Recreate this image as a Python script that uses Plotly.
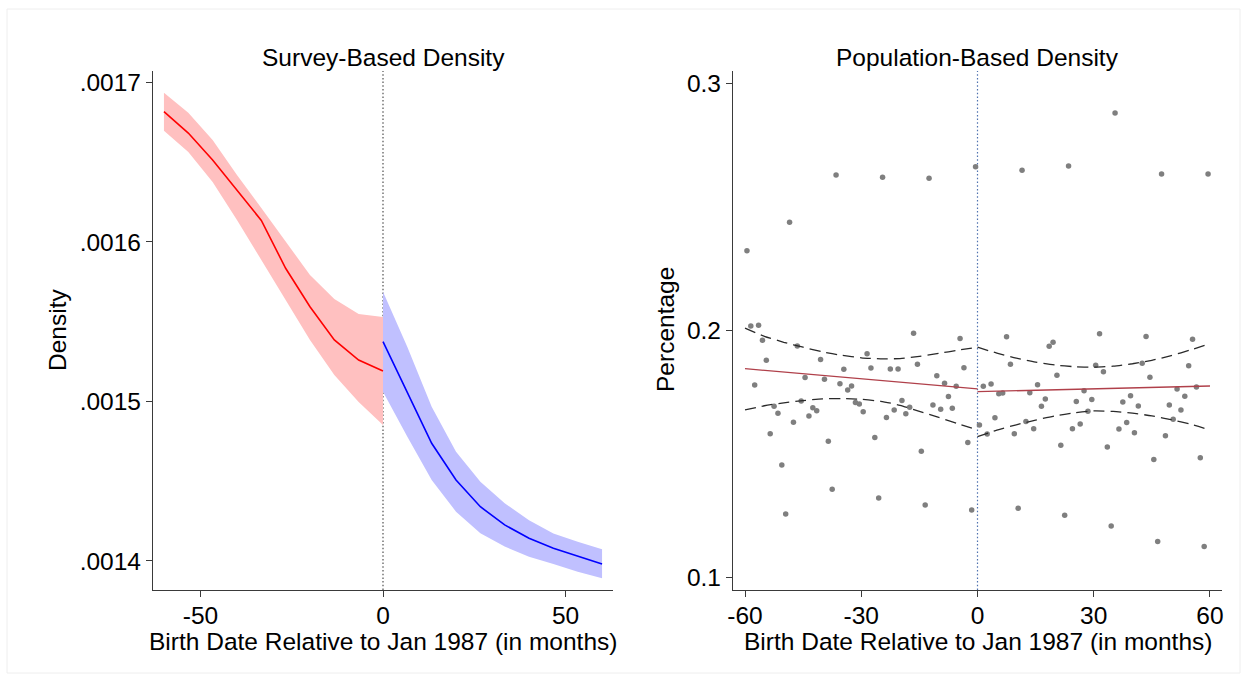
import plotly.graph_objects as go

# ---------------- Data ----------------
# Survey-based density (left panel)
survey_x_left = [-60, -53.33, -46.67, -40, -33.33, -26.67, -20, -13.33, -6.67, 0]
survey_left_fit = [0.0016817, 0.0016683, 0.0016514, 0.0016326, 0.0016135, 0.0015835,
                   0.0015594, 0.0015386, 0.0015260, 0.0015191]
survey_left_hi = [0.0016936, 0.0016811, 0.0016640, 0.0016420, 0.0016213, 0.0016006,
                  0.0015793, 0.0015643, 0.0015549, 0.0015530]
survey_left_lo = [0.0016698, 0.0016564, 0.0016376, 0.0016138, 0.0015887, 0.0015636,
                  0.0015386, 0.0015166, 0.0014997, 0.0014853]

survey_x_right = [0, 6.67, 13.33, 20, 26.67, 33.33, 40, 46.67, 53.33, 60]
survey_right_fit = [0.0015375, 0.0015051, 0.0014738, 0.0014508, 0.0014340, 0.0014226,
                    0.0014142, 0.0014080, 0.0014031, 0.0013981]
survey_right_hi = [0.0015688, 0.0015342, 0.0014967, 0.0014685, 0.0014497, 0.0014362,
                   0.0014256, 0.0014173, 0.0014121, 0.0014073]
survey_right_lo = [0.0015061, 0.0014779, 0.0014508, 0.0014309, 0.0014174, 0.0014090,
                   0.0014027, 0.0013981, 0.0013933, 0.0013891]

# Population-based density (right panel): monthly bins -60 .. 59
months = list(range(-60, 60))
pct = [
    0.2323, 0.2019, 0.1780, 0.2022, 0.1961, 0.1880, 0.1583, 0.1694, 0.1666, 0.1456,
    0.1258, 0.2439, 0.1629, 0.1938, 0.1715, 0.1810, 0.1655, 0.1688, 0.1676, 0.1883,
    0.1803, 0.1552, 0.1358, 0.2630, 0.1785, 0.1844, 0.1760, 0.1776, 0.1709, 0.1703,
    0.1672, 0.1906, 0.1849, 0.1567, 0.1323, 0.2621, 0.1648, 0.1845, 0.1679, 0.1845,
    0.1717, 0.1664, 0.1690, 0.1989, 0.1864, 0.1512, 0.1294, 0.2617, 0.1699, 0.1817,
    0.1682, 0.1787, 0.1733, 0.1686, 0.1775, 0.1968, 0.1850, 0.1547, 0.1274, 0.2663,
    0.1618, 0.1775, 0.1582, 0.1784, 0.1647, 0.1745, 0.1748, 0.1975, 0.1864, 0.1583,
    0.1281, 0.2649, 0.1632, 0.1749, 0.1603, 0.1781, 0.1694, 0.1723, 0.1937, 0.1953,
    0.1819, 0.1536, 0.1253, 0.2666, 0.1603, 0.1713, 0.1622, 0.1757, 0.1674, 0.1721,
    0.1860, 0.1987, 0.1834, 0.1529, 0.1209, 0.2881, 0.1602, 0.1711, 0.1628, 0.1736,
    0.1587, 0.1695, 0.1868, 0.1976, 0.1811, 0.1478, 0.1147, 0.2634, 0.1575, 0.1699,
    0.1641, 0.1764, 0.1679, 0.1734, 0.1858, 0.1965, 0.1772, 0.1486, 0.1126, 0.2634,
]

pop_fit_left_x = [-60, 0]
pop_fit_left_y = [0.1846, 0.1764]
pop_fit_right_x = [0, 60]
pop_fit_right_y = [0.1753, 0.1776]

pop_ci_left_x = [-60, -55, -50, -45, -40, -35, -30, -25, -20, -15, -10, -5, 0]
pop_ci_left_hi = [0.2010, 0.1977, 0.1953, 0.1933, 0.1914, 0.1900, 0.1890, 0.1886,
                  0.1887, 0.1896, 0.1908, 0.1921, 0.1933]
pop_ci_left_lo = [0.1679, 0.1696, 0.1708, 0.1717, 0.1724, 0.1725, 0.1722, 0.1714,
                  0.1698, 0.1673, 0.1649, 0.1623, 0.1598]
pop_ci_right_x = [0, 5, 10, 15, 20, 25, 30, 35, 40, 45, 50, 55, 60]
pop_ci_right_hi = [0.1933, 0.1909, 0.1889, 0.1873, 0.1861, 0.1854, 0.1852, 0.1856,
                   0.1866, 0.1880, 0.1899, 0.1922, 0.1947]
pop_ci_right_lo = [0.1571, 0.1597, 0.1619, 0.1638, 0.1655, 0.1667, 0.1675, 0.1673,
                   0.1666, 0.1655, 0.1640, 0.1621, 0.1598]

left_yticks = [0.0014, 0.0015, 0.0016, 0.0017]
left_yticktext = [".0014", ".0015", ".0016", ".0017"]
left_xticks = [-50, 0, 50]
left_xticktext = ["-50", "0", "50"]
right_yticks = [0.1, 0.2, 0.3]
right_yticktext = ["0.1", "0.2", "0.3"]
right_xticks = [-60, -30, 0, 30, 60]
right_xticktext = ["-60", "-30", "0", "30", "60"]

# ---------------- Figure ----------------
FONT = "Liberation Sans, Arial, sans-serif"
FS = 24.5
W, H = 1244, 682

fig = go.Figure()


def band(x, lo, hi, color, axes):
    fig.add_trace(go.Scatter(
        x=list(x) + list(x)[::-1], y=list(hi) + list(lo)[::-1],
        fill="toself", fillcolor=color, line=dict(width=0), mode="lines",
        hoverinfo="skip", showlegend=False, xaxis=axes[0], yaxis=axes[1]))


band(survey_x_left, survey_left_lo, survey_left_hi, "rgb(255,192,192)", ("x", "y"))
band(survey_x_right, survey_right_lo, survey_right_hi, "rgb(192,192,255)", ("x", "y"))
fig.add_trace(go.Scatter(x=survey_x_left, y=survey_left_fit, mode="lines",
                         line=dict(color="#ff0000", width=1.6), showlegend=False))
fig.add_trace(go.Scatter(x=survey_x_right, y=survey_right_fit, mode="lines",
                         line=dict(color="#0000ff", width=1.6), showlegend=False))

# right panel
fig.add_trace(go.Scatter(x=[m + 0.5 for m in months], y=pct, mode="markers",
                         marker=dict(color="#7f7f7f", size=5.5, line=dict(width=0)),
                         showlegend=False, xaxis="x2", yaxis="y2"))
for cx, cy in [(pop_ci_left_x, pop_ci_left_hi), (pop_ci_left_x, pop_ci_left_lo),
               (pop_ci_right_x, pop_ci_right_hi), (pop_ci_right_x, pop_ci_right_lo)]:
    fig.add_trace(go.Scatter(x=cx, y=cy, mode="lines",
                             line=dict(color="#2a2a2a", width=1.3, dash="11px,6px",
                                       shape="spline", smoothing=0.6),
                             showlegend=False, xaxis="x2", yaxis="y2"))
fig.add_trace(go.Scatter(x=pop_fit_left_x, y=pop_fit_left_y, mode="lines",
                         line=dict(color="#b0404a", width=1.3), showlegend=False,
                         xaxis="x2", yaxis="y2"))
fig.add_trace(go.Scatter(x=pop_fit_right_x, y=pop_fit_right_y, mode="lines",
                         line=dict(color="#b0404a", width=1.3), showlegend=False,
                         xaxis="x2", yaxis="y2"))

# vertical reference lines at 0
fig.add_shape(type="line", xref="x", yref="y domain", x0=0, x1=0, y0=0, y1=1,
              line=dict(color="#404040", width=1.1, dash="1.5px,2.2px"), layer="below")
fig.add_shape(type="line", xref="x2", yref="y2 domain", x0=0, x1=0, y0=0, y1=1,
              line=dict(color="#4f72b0", width=1.2, dash="1.5px,2.2px"), layer="below")

# faint outer border
fig.add_shape(type="rect", xref="paper", yref="paper",
              x0=7 / W, x1=1240 / W, y0=1 - 673 / H, y1=1 - 9 / H,
              line=dict(color="#eeeeee", width=1))

axis_common = dict(showline=True, linecolor="#3a3a3a", linewidth=1.2, ticks="outside",
                   ticklen=6, tickwidth=1.2, tickcolor="#3a3a3a", showgrid=False,
                   zeroline=False, tickfont=dict(family=FONT, size=FS, color="black"),
                   mirror=False, automargin=False)
ydom = [1 - 590 / H, 1 - 71 / H]

fig.update_layout(
    width=W, height=H, margin=dict(l=0, r=0, t=0, b=0, pad=0, autoexpand=False),
    paper_bgcolor="white", plot_bgcolor="white",
    font=dict(family=FONT, size=FS, color="black"),
    xaxis=dict(domain=[153 / W, 613 / W], range=[-63, 63], tickvals=left_xticks,
               ticktext=left_xticktext, anchor="y", ticklabelstandoff=-3, **axis_common),
    yaxis=dict(domain=ydom, range=[0.0013818, 0.0017072], tickvals=left_yticks,
               ticktext=left_yticktext, anchor="x", **axis_common),
    xaxis2=dict(domain=[733 / W, 1222 / W], range=[-63.1, 63.1], tickvals=right_xticks,
                ticktext=right_xticktext, anchor="y2", ticklabelstandoff=-3, **axis_common),
    yaxis2=dict(domain=ydom, range=[0.09502, 0.3051], tickvals=right_yticks,
                ticktext=right_yticktext, anchor="x2", **axis_common),
)

ann = [
    dict(text="Survey-Based Density", xref="x", x=0, yref="paper", y=1 - 57 / H),
    dict(text="Population-Based Density", xref="x2", x=0, yref="paper", y=1 - 57 / H),
    dict(text="Birth Date Relative to Jan 1987 (in months)", xref="x", x=0,
         yref="paper", y=1 - 641 / H),
    dict(text="Birth Date Relative to Jan 1987 (in months)", xref="x2", x=0,
         yref="paper", y=1 - 641 / H),
    dict(text="Density", xref="paper", x=57 / W, yref="paper", y=1 - 330 / H, textangle=-90),
    dict(text="Percentage", xref="paper", x=665 / W, yref="paper", y=1 - 330 / H,
         textangle=-90),
]
for a in ann:
    fig.add_annotation(showarrow=False, xanchor="center", yanchor="middle",
                       font=dict(family=FONT, size=FS, color="black"), **a)

fig.write_html("out.html")
